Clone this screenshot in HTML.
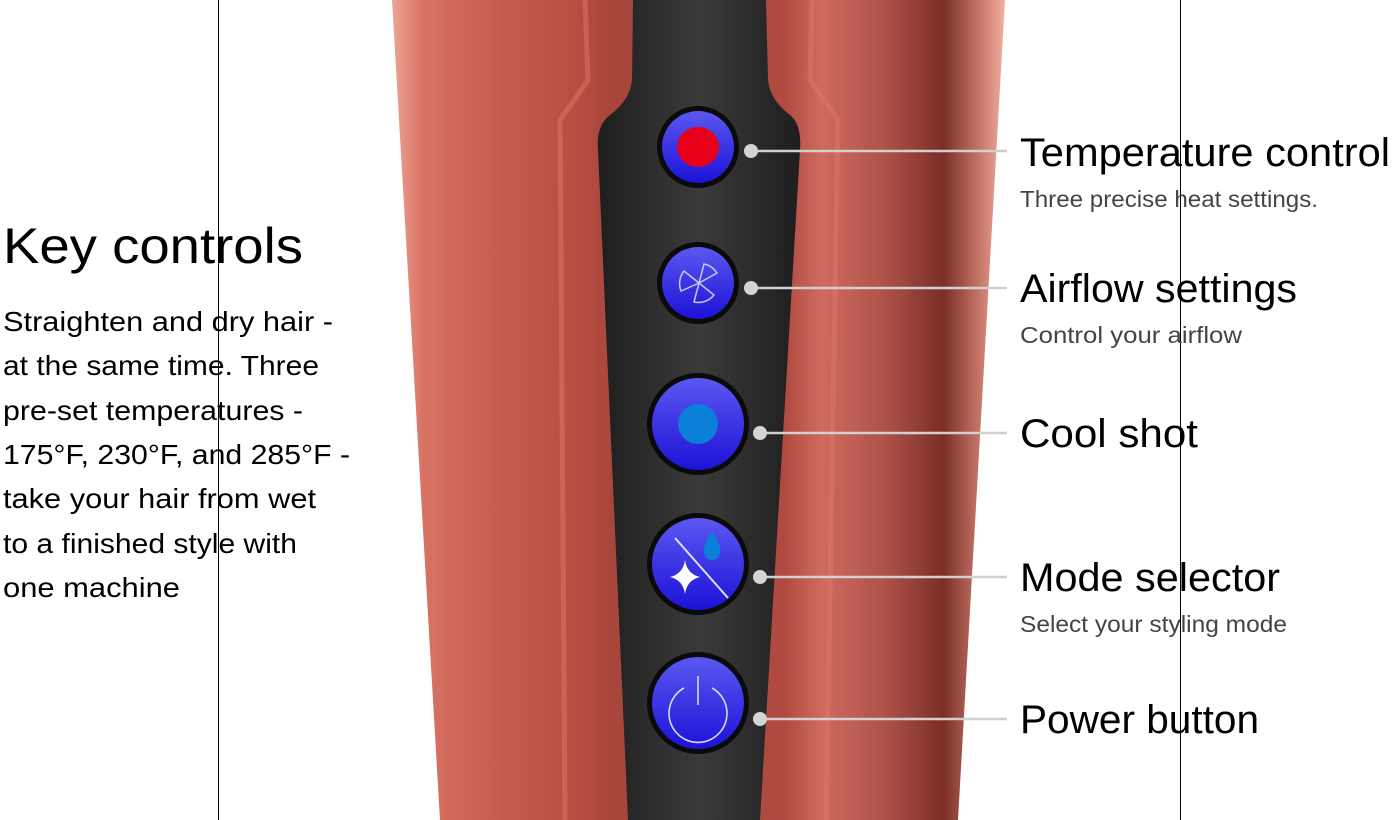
<!DOCTYPE html>
<html><head><meta charset="utf-8"><style>
html,body{margin:0;padding:0;background:#fff;}
body{width:1393px;height:820px;overflow:hidden;position:relative;}
svg{position:absolute;left:0;top:0;}
</style></head><body>
<svg width="1393" height="820" viewBox="0 0 1393 820" font-family="'Liberation Sans', sans-serif">
<defs>
<linearGradient id="body" x1="0" x2="1" y1="0" y2="0">
<stop offset="0" stop-color="#eea596"/>
<stop offset="0.05" stop-color="#d87364"/>
<stop offset="0.18" stop-color="#c65a4e"/>
<stop offset="0.3" stop-color="#b84d42"/>
<stop offset="0.36" stop-color="#a8463c"/>
<stop offset="0.64" stop-color="#b04a40"/>
<stop offset="0.7" stop-color="#cf6a5e"/>
<stop offset="0.8" stop-color="#b0534a"/>
<stop offset="0.9" stop-color="#7a2e26"/>
<stop offset="0.96" stop-color="#c8786a"/>
<stop offset="1" stop-color="#f2b0a2"/>
</linearGradient>
<linearGradient id="panel" x1="0" x2="1">
<stop offset="0" stop-color="#1e1e1e"/>
<stop offset="0.5" stop-color="#3a3a3a"/>
<stop offset="1" stop-color="#1e1e1e"/>
</linearGradient>
<linearGradient id="btn" x1="0" x2="0" y1="0" y2="1">
<stop offset="0" stop-color="#5a58f0"/>
<stop offset="1" stop-color="#1d12d8"/>
</linearGradient>
</defs>
<polygon points="392,0 1005,0 958,820 440,820" fill="url(#body)"/>
<path d="M585,0 L588,80 L560,120 L565,820" stroke="#e07868" stroke-width="5" fill="none" opacity="0.5"/>
<path d="M812,0 L810,80 L838,120 L826,820" stroke="#e07868" stroke-width="5" fill="none" opacity="0.5"/>
<path d="M633,0 L766,0 L768,80 Q770,100 790,115 Q802,125 800,150 L760,820 L628,820 L598,150 Q596,125 610,115 Q630,100 632,80 Z" fill="url(#panel)"/>
<g>
<circle cx="698" cy="147" r="41" fill="#0a0a0a"/><circle cx="698" cy="147" r="36" fill="url(#btn)"/>
<ellipse cx="698" cy="147" rx="21" ry="20" fill="#e8001a"/>
<circle cx="698" cy="283" r="41" fill="#0a0a0a"/><circle cx="698" cy="283" r="36" fill="url(#btn)"/>
<g stroke="#c8c8f0" stroke-width="1.5" fill="none" transform="translate(699,283)">
<path d="M0,0 L-15,-12 A20,20 0 0 0 -18,8 Z"/>
<path d="M0,0 L18,-10 A20,20 0 0 0 5,-19 Z"/>
<path d="M0,0 L-5,19 A20,20 0 0 0 15,12 Z"/>
</g>
<circle cx="698" cy="424" r="51" fill="#0a0a0a"/><circle cx="698" cy="424" r="46" fill="url(#btn)"/>
<ellipse cx="698" cy="424" rx="20" ry="20" fill="#0a80d8"/>
<circle cx="698" cy="564" r="51" fill="#0a0a0a"/><circle cx="698" cy="564" r="46" fill="url(#btn)"/>
<line x1="675" y1="538" x2="728" y2="598" stroke="#e0e0ff" stroke-width="2"/>
<path d="M712,532 Q722,545 720,552 A8,8 0 0 1 704,552 Q703,545 712,532 Z" fill="#0a80d8"/>
<path d="M685,560 Q687,574 700,577 Q687,580 685,594 Q683,580 670,577 Q683,574 685,560 Z" fill="#fff"/>
<circle cx="698" cy="703" r="51" fill="#0a0a0a"/><circle cx="698" cy="703" r="46" fill="url(#btn)"/>
<path d="M684,688 A29,29 0 1 0 712,688" stroke="#d8d8ff" stroke-width="1.6" fill="none"/>
<line x1="698" y1="676" x2="698" y2="705" stroke="#d8d8ff" stroke-width="1.6"/>
</g>
<g stroke="#d0d0d0" stroke-width="2.5">
<line x1="751" y1="151" x2="1007" y2="151"/>
<line x1="751" y1="288" x2="1007" y2="288"/>
<line x1="760" y1="433" x2="1007" y2="433"/>
<line x1="760" y1="577" x2="1007" y2="577"/>
<line x1="760" y1="719" x2="1007" y2="719"/>
</g>
<g fill="#d4d4d4">
<circle cx="751" cy="151" r="7"/><circle cx="751" cy="288" r="7"/>
<circle cx="760" cy="433" r="7"/><circle cx="760" cy="577" r="7"/><circle cx="760" cy="719" r="7"/>
</g>
<line x1="218.5" y1="0" x2="218.5" y2="820" stroke="#000" stroke-width="1"/>
<line x1="1180.5" y1="0" x2="1180.5" y2="820" stroke="#000" stroke-width="1"/>
<g fill="#000" font-size="40">
<text x="1020" y="166" textLength="370" lengthAdjust="spacingAndGlyphs">Temperature control</text>
<text x="1020" y="302" textLength="277" lengthAdjust="spacingAndGlyphs">Airflow settings</text>
<text x="1020" y="447" textLength="178" lengthAdjust="spacingAndGlyphs">Cool shot</text>
<text x="1020" y="591" textLength="260" lengthAdjust="spacingAndGlyphs">Mode selector</text>
<text x="1020" y="733" textLength="239" lengthAdjust="spacingAndGlyphs">Power button</text>
</g>
<g fill="#444" font-size="23">
<text x="1020" y="207" textLength="298" lengthAdjust="spacingAndGlyphs">Three precise heat settings.</text>
<text x="1020" y="343" textLength="222" lengthAdjust="spacingAndGlyphs">Control your airflow</text>
<text x="1020" y="632" textLength="267" lengthAdjust="spacingAndGlyphs">Select your styling mode</text>
</g>
<text x="3" y="263" font-size="50" fill="#000" textLength="300" lengthAdjust="spacingAndGlyphs">Key controls</text>
<g fill="#000" font-size="28">
<text x="3" y="331" textLength="330" lengthAdjust="spacingAndGlyphs">Straighten and dry hair -</text>
<text x="3" y="375" textLength="316" lengthAdjust="spacingAndGlyphs">at the same time. Three</text>
<text x="3" y="420" textLength="300" lengthAdjust="spacingAndGlyphs">pre-set temperatures -</text>
<text x="3" y="464" textLength="347" lengthAdjust="spacingAndGlyphs">175°F, 230°F, and 285°F -</text>
<text x="3" y="508" textLength="313" lengthAdjust="spacingAndGlyphs">take your hair from wet</text>
<text x="3" y="553" textLength="294" lengthAdjust="spacingAndGlyphs">to a finished style with</text>
<text x="3" y="597" textLength="177" lengthAdjust="spacingAndGlyphs">one machine</text>
</g>
</svg>
</body></html>
